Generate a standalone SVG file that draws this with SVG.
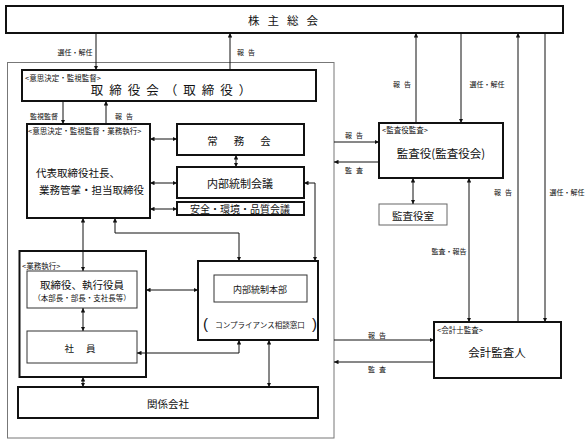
<svg xmlns="http://www.w3.org/2000/svg" width="588" height="443" viewBox="0 0 588 443">
<style>
text{font-family:"Noto Sans CJK JP","Noto Sans CJK SC",sans-serif;fill:#111;dominant-baseline:central}
.thick{fill:#fff;stroke:#111;stroke-width:2}
.thin{fill:#fff;stroke:#333;stroke-width:1}
.gray{fill:#fff;stroke:#666;stroke-width:1}
.lbl{font-size:7px;text-anchor:middle}
.tag{font-size:7.5px}
.c{text-anchor:middle}
.br{font-family:"Liberation Sans",sans-serif;font-size:15px}
#connectors line,#connectors path{stroke:#111;stroke-width:1;fill:none}
.a{marker-end:url(#ah)}
.b{marker-start:url(#ah);marker-end:url(#ah)}
</style>
<defs>
<marker id="ah" viewBox="0 0 8 8" refX="8" refY="4" markerWidth="4.5" markerHeight="4.5" markerUnits="userSpaceOnUse" orient="auto-start-reverse">
<path d="M0,0 L8,4 L0,8 Z" fill="#111"/>
</marker>
</defs>
<rect width="588" height="443" fill="#fff"/>

<g id="company-boundary">
<rect x="7.5" y="62.5" width="326.5" height="375.5" fill="none" stroke="#777" stroke-width="1"/>
</g>

<g id="shareholders">
<rect class="thick" x="6" y="6" width="557" height="27" stroke-width="1.6"/>
<text class="c" x="287" y="20" font-size="11.5" letter-spacing="8">株主総会</text>
</g>

<g id="board">
<rect class="thick" x="22" y="70" width="294" height="31"/>
<text class="tag" x="25" y="77">&lt;意思決定・監視監督&gt;</text>
<text class="c" x="174" y="89" font-size="12.5" letter-spacing="6">取締役会（取締役）</text>
</g>

<g id="president">
<rect class="thick" x="27" y="124" width="123" height="94"/>
<text class="tag" x="28" y="130">&lt;意思決定・監視監督・業務執行&gt;</text>
<text x="36" y="172" font-size="10.5">代表取締役社長、</text>
<text x="39" y="189" font-size="10.5">業務管掌・担当取締役</text>
</g>

<g id="executive-committee">
<rect class="thick" x="177" y="124" width="127" height="31"/>
<text class="c" x="247" y="140" font-size="10.5" letter-spacing="16">常務会</text>
</g>

<g id="internal-control-meeting">
<rect class="thick" x="177" y="167" width="127" height="31"/>
<text class="c" x="240" y="183" font-size="11">内部統制会議</text>
</g>

<g id="safety-meeting">
<rect class="thick" x="177" y="202" width="127" height="13"/>
<text class="c" x="240" y="208.5" font-size="10">安全・環境・品質会議</text>
</g>

<g id="business-execution">
<rect class="thick" x="19.5" y="251" width="126.5" height="126"/>
<text class="tag" x="22" y="265" font-size="7">&lt;業務執行&gt;</text>
</g>

<g id="officers">
<rect class="thin" x="27" y="271" width="110" height="37"/>
<text class="c" x="82" y="284" font-size="10.5">取締役、執行役員</text>
<text class="c" x="82" y="297" font-size="7.5">（本部長・部長・支社長等）</text>
</g>

<g id="employees">
<rect class="thin" x="27" y="331" width="110" height="32"/>
<text class="c" x="86" y="348" font-size="9.5" letter-spacing="12">社員</text>
</g>

<g id="internal-control-hq">
<rect class="thick" x="198" y="261" width="120" height="79"/>
<rect class="thin" x="214" y="275" width="93" height="27"/>
<text class="c" x="260" y="289" font-size="9">内部統制本部</text>
<text class="c" x="260" y="324" font-size="7.5">コンプライアンス相談窓口</text>
<text class="br" x="203" y="323">(</text>
<text class="br" x="312" y="323">)</text>
</g>

<g id="affiliates">
<rect class="thick" x="18" y="387" width="300" height="31"/>
<text class="c" x="168" y="403" font-size="10.5">関係会社</text>
</g>

<g id="auditors">
<rect class="thick" x="379" y="123" width="124" height="55"/>
<text class="tag" x="382" y="129">&lt;監査役監査&gt;</text>
<text class="c" x="441" y="153" font-size="11.5">監査役(監査役会)</text>
</g>

<g id="auditors-office">
<rect class="gray" x="379" y="204" width="68" height="21"/>
<text class="c" x="413" y="215" font-size="10.5">監査役室</text>
</g>

<g id="accounting-auditor">
<rect class="thick" x="434" y="322" width="127" height="56"/>
<text class="tag" x="437" y="329">&lt;会計士監査&gt;</text>
<text class="c" x="497" y="352" font-size="11.5">会計監査人</text>
</g>

<g id="connectors">
<line class="a" x1="96" y1="33" x2="96" y2="70"/>
<line class="a" x1="230" y1="70" x2="230" y2="33"/>
<line class="a" x1="63" y1="101" x2="63" y2="124"/>
<line class="a" x1="106" y1="124" x2="106" y2="101"/>
<line class="b" x1="150" y1="139" x2="177" y2="139"/>
<line class="b" x1="236" y1="155" x2="236" y2="167"/>
<line class="b" x1="150" y1="183" x2="177" y2="183"/>
<line class="b" x1="150" y1="209" x2="177" y2="209"/>
<path class="b" d="M304,183 H315 V261"/>
<line class="b" x1="83" y1="218" x2="83" y2="271"/>
<path class="b" d="M115,218 V233 H239 V261"/>
<line class="b" x1="146" y1="290" x2="198" y2="290"/>
<line class="b" x1="83" y1="308" x2="83" y2="331"/>
<path class="b" d="M137,353 H239 V340"/>
<line class="b" x1="83" y1="377" x2="83" y2="387"/>
<line class="b" x1="269" y1="340" x2="269" y2="387"/>
<line class="a" x1="416" y1="123" x2="416" y2="33"/>
<line class="a" x1="461" y1="33" x2="461" y2="123"/>
<line class="a" x1="334" y1="142" x2="379" y2="142"/>
<line class="a" x1="379" y1="162" x2="334" y2="162"/>
<line class="b" x1="413" y1="178" x2="413" y2="204"/>
<line class="b" x1="469" y1="178" x2="469" y2="322"/>
<line class="a" x1="518" y1="322" x2="518" y2="33"/>
<line class="a" x1="545" y1="33" x2="545" y2="322"/>
<line class="a" x1="334" y1="340" x2="434" y2="340"/>
<line class="a" x1="434" y1="362" x2="334" y2="362"/>
</g>

<g id="connector-labels">
<text class="lbl" x="75" y="52">選任・解任</text>
<text class="lbl" x="248" y="52" letter-spacing="4">報告</text>
<text class="lbl" x="44" y="116">監視監督</text>
<text class="lbl" x="126" y="116" letter-spacing="4">報告</text>
<text class="lbl" x="404" y="84" letter-spacing="4">報告</text>
<text class="lbl" x="487" y="84">選任・解任</text>
<text class="lbl" x="356" y="135" letter-spacing="4">報告</text>
<text class="lbl" x="356" y="170" letter-spacing="4">監査</text>
<text class="lbl" x="449" y="251">監査・報告</text>
<text class="lbl" x="505" y="192" letter-spacing="4">報告</text>
<text class="lbl" x="567" y="192">選任・解任</text>
<text class="lbl" x="379" y="335" letter-spacing="4">報告</text>
<text class="lbl" x="379" y="369" letter-spacing="4">監査</text>
</g>
</svg>
